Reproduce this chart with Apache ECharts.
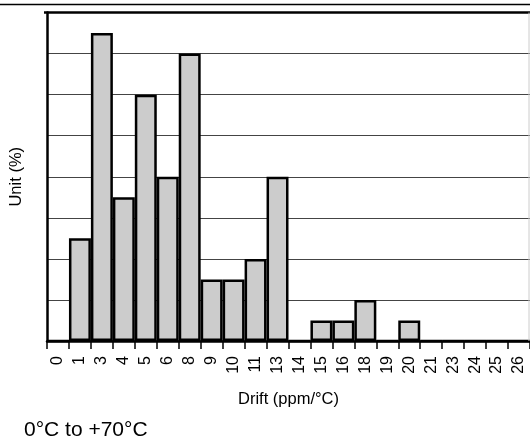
<!DOCTYPE html>
<html>
<head>
<meta charset="utf-8">
<script src="https://cdn.jsdelivr.net/npm/echarts@6/dist/echarts.min.js"></script>
<style>
  html, body { margin: 0; padding: 0; background: #fff; }
  #chart { width: 530px; height: 442px; }
</style>
</head>
<body>
<div id="chart"></div>
<script>
// Drift bins (ppm/°C) and share of units in each bin
const driftBins = ['0', '1', '3', '4', '5', '6', '8', '9', '10', '11', '13', '14',
                   '15', '16', '18', '19', '20', '21', '23', '24', '25', '26'];
const unitShare = [0, 2.5, 7.5, 3.5, 6, 4, 7, 1.5, 1.5, 2, 4, 0,
                   0.5, 0.5, 1, 0, 0.5, 0, 0, 0, 0, 0];
const yMin = 0, yMax = 8, yStep = 1;

const FONT = '"Liberation Sans", Arial, sans-serif';
const chart = echarts.init(document.getElementById('chart'), null, { renderer: 'canvas' });

chart.setOption({
  animation: false,
  backgroundColor: '#fff',
  grid: { left: 45, top: 12.5, width: 486, height: 328.5, containLabel: false },
  xAxis: {
    type: 'category',
    data: driftBins,
    name: 'Drift (ppm/°C)',
    nameLocation: 'middle',
    nameGap: 50,
    nameTextStyle: { fontFamily: FONT, fontSize: 16.5, color: '#000' },
    axisLine: { lineStyle: { color: '#000', width: 2.5 } },
    axisTick: { show: true, length: 8, lineStyle: { color: '#000', width: 1.5 } },
    axisLabel: { rotate: 90, margin: 15, fontFamily: FONT, fontSize: 16, color: '#000', interval: 0 },
    splitLine: { show: false }
  },
  yAxis: {
    type: 'value',
    min: yMin, max: yMax, interval: yStep,
    name: 'Unit (%)',
    nameLocation: 'middle',
    nameGap: 22,
    nameTextStyle: { fontFamily: FONT, fontSize: 16.5, color: '#000' },
    axisLine: { show: true, lineStyle: { color: '#000', width: 2.5 } },
    axisTick: { show: false },
    axisLabel: { show: false },
    splitLine: { show: true, lineStyle: { color: '#444', width: 1 } }
  },
  series: [{
    type: 'bar',
    data: unitShare,
    barCategoryGap: '0%',
    itemStyle: { color: '#cccccc', borderColor: '#000', borderWidth: 2.5 },
    z: 3
  }],
  graphic: [
    { type: 'line', shape: { x1: 0, y1: 4.5, x2: 530, y2: 4.5 }, style: { stroke: '#000', lineWidth: 1.5 }, z: 10 },
    { type: 'line', shape: { x1: 44, y1: 12.5, x2: 530, y2: 12.5 }, style: { stroke: '#000', lineWidth: 2.5 }, z: 10 },
    { type: 'line', shape: { x1: 529, y1: 12.5, x2: 529, y2: 341 }, style: { stroke: '#ccc', lineWidth: 1 }, z: 10 },
    { type: 'text', left: 24, top: 420, style: { text: '0°C to +70°C', font: '21px ' + FONT, fill: '#000' }, z: 10 }
  ]
});
</script>
</body>
</html>
